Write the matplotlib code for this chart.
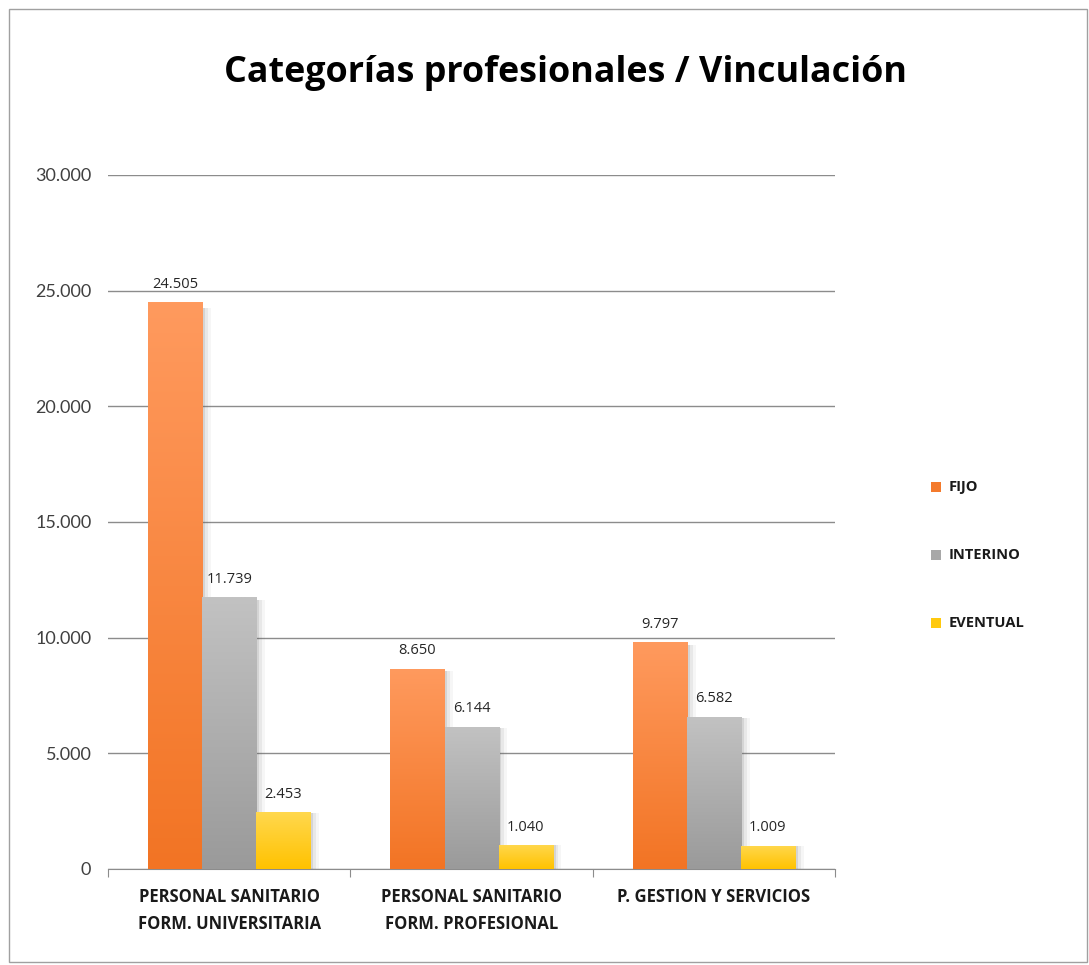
import numpy as np
import matplotlib
matplotlib.use("Agg")
from matplotlib import pyplot as plt
from matplotlib.patches import Rectangle
from matplotlib.colors import LinearSegmentedColormap
from matplotlib.ticker import FuncFormatter, FixedLocator

plt.rcParams["font.family"] = ["Lato", "DejaVu Sans"]

categories = ["PERSONAL SANITARIO\nFORM. UNIVERSITARIA",
              "PERSONAL SANITARIO\nFORM. PROFESIONAL",
              "P. GESTION Y SERVICIOS"]
series_names = ["FIJO", "INTERINO", "EVENTUAL"]
fijo = [24505, 8650, 9797]
interino = [11739, 6144, 6582]
eventual = [2453, 1040, 1009]
yticks = [0, 5000, 10000, 15000, 20000, 25000, 30000]

# (top colour, bottom colour) for the vertical gradient
grad = [("#ff9a5e", "#f27424"), ("#c2c2c2", "#9a9a9a"), ("#ffd84e", "#ffc200")]
legend_colors = ["#f47a2c", "#a8a8a8", "#ffc90e"]

fig = plt.figure(figsize=(10.89, 9.65), dpi=100)
ax = fig.add_axes([0.0992, 0.0995, 0.6676, 0.7192])

width = 0.223
values = [fijo, interino, eventual]
x = np.arange(len(categories))
for s, vals in enumerate(values):
    cmap = LinearSegmentedColormap.from_list("g%d" % s, [grad[s][1], grad[s][0]])
    offs = (s - 1) * width
    for i, v in enumerate(vals):
        x0 = x[i] + offs - width / 2
        # soft shadow to the right
        for k, a in enumerate([0.14, 0.09, 0.05]):
            sh = Rectangle((x0 + width, 0), 0.012 * (k + 1), v * 0.99,
                           facecolor="#606060", alpha=a, lw=0, zorder=2)
            ax.add_patch(sh)
        rect = Rectangle((x0, 0), width, v, facecolor="none", lw=0, zorder=3)
        ax.add_patch(rect)
        im = ax.imshow(np.linspace(0, 1, 256).reshape(-1, 1), cmap=cmap,
                       aspect="auto", origin="lower",
                       extent=[x0, x0 + width, 0, v], zorder=3)
        im.set_clip_path(rect)
        ax.text(x[i] + offs, v + 450, f"{v:,}".replace(",", "."),
                ha="center", va="bottom", fontsize=10.5, color="#262626",
                family=["Open Sans", "DejaVu Sans"])

ax.set_xlim(-0.5, 2.5)
ax.set_ylim(0, 30000)
ax.yaxis.set_major_locator(FixedLocator(yticks))
ax.yaxis.set_major_formatter(FuncFormatter(lambda v, p: "0" if v == 0 else f"{int(v):,}".replace(",", ".")))
ax.grid(axis="y", color="#8c8c8c", lw=1.0, zorder=0)
ax.set_axisbelow(True)
for side in ["top", "right", "left"]:
    ax.spines[side].set_visible(False)
ax.spines["bottom"].set_color("#8c8c8c")
ax.tick_params(axis="y", length=0, labelsize=13, labelcolor="#404040", pad=12)
ax.set_xticks([-0.5, 0.5, 1.5, 2.5])
ax.set_xticks(x, minor=True)
ax.set_xticklabels([])
ax.set_xticklabels(categories, minor=True, fontsize=12, fontweight="bold", color="#1a1a1a",
                   family=["Open Sans", "DejaVu Sans"], linespacing=1.6)
ax.tick_params(axis="x", which="major", length=6, color="#8c8c8c", direction="out")
ax.tick_params(axis="x", which="minor", length=0, pad=14)

fig.text(0.519, 0.924, "Categorías profesionales / Vinculación", ha="center", va="center",
         fontsize=25.8, fontweight="bold", color="#000000", family=["Open Sans", "DejaVu Sans"])

for s, name in enumerate(series_names):
    yy = 1 - (487 + s * 68) / 965
    fig.patches.append(Rectangle((0.855, yy - 0.0055), 0.0095, 0.011, transform=fig.transFigure,
                                 facecolor=legend_colors[s], lw=0, figure=fig))
    fig.text(0.871, yy, name, ha="left", va="center", fontsize=10.5, fontweight="bold",
             color="#1a1a1a", family=["Open Sans", "DejaVu Sans"])

fig.patches.append(Rectangle((0.008, 0.003), 0.99, 0.988, transform=fig.transFigure,
                             facecolor="none", edgecolor="#a0a0a0", lw=1, figure=fig))

fig.savefig("out.png", dpi=100)
